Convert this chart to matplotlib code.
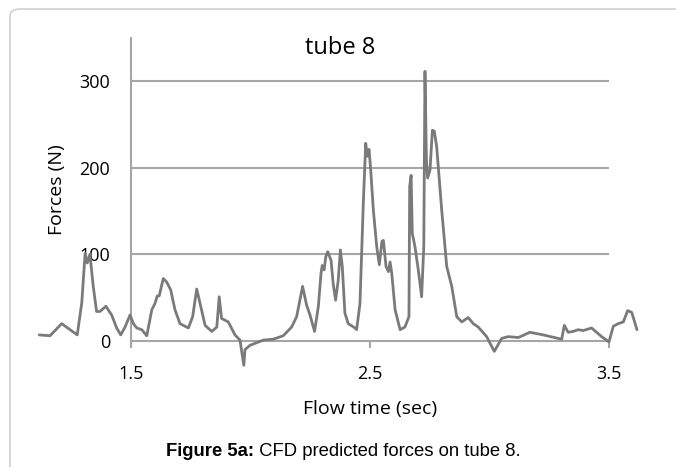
import matplotlib.pyplot as plt
from matplotlib.patches import FancyBboxPatch

# flow time (sec) and force (N)
time = [1.116, 1.161, 1.210, 1.245, 1.275, 1.294, 1.308, 1.317, 1.328, 1.342,
        1.356, 1.370, 1.395, 1.419, 1.440, 1.457, 1.475, 1.496, 1.510, 1.524,
        1.545, 1.566, 1.587, 1.600, 1.610, 1.618, 1.635, 1.649, 1.666, 1.684,
        1.705, 1.740, 1.758, 1.775, 1.789, 1.810, 1.838, 1.859, 1.869, 1.879,
        1.907, 1.935, 1.956, 1.972, 1.977, 1.998, 2.054, 2.095, 2.137, 2.172,
        2.193, 2.218, 2.235, 2.249, 2.268, 2.284, 2.295, 2.300, 2.308, 2.315,
        2.323, 2.337, 2.346, 2.356, 2.367, 2.376, 2.384, 2.395, 2.409, 2.437,
        2.444, 2.458, 2.472, 2.482, 2.489, 2.496, 2.503, 2.514, 2.528, 2.539,
        2.550, 2.556, 2.567, 2.577, 2.584, 2.591, 2.605, 2.626, 2.646, 2.663,
        2.666, 2.672, 2.677, 2.688, 2.702, 2.716, 2.725, 2.730, 2.736, 2.741,
        2.751, 2.761, 2.769, 2.779, 2.800, 2.821, 2.842, 2.863, 2.884, 2.911,
        2.932, 2.953, 2.988, 3.020, 3.051, 3.079, 3.121, 3.169, 3.225, 3.302,
        3.313, 3.329, 3.350, 3.371, 3.392, 3.427, 3.469, 3.500, 3.518, 3.539,
        3.560, 3.578, 3.595, 3.617]
force = [7, 6, 20, 13, 7, 44, 101, 90, 100, 63,
         34, 34, 40, 30, 15, 7, 16, 30, 20, 15,
         13, 6, 36, 43, 52, 52, 72, 68, 59, 36,
         20, 15, 28, 60, 43, 18, 11, 16, 51, 26,
         22, 7, 1, -28, -10, -5, 1, 2, 6, 16,
         28, 63, 41, 30, 11, 40, 78, 87, 82, 97,
         103, 93, 66, 47, 70, 105, 86, 32, 20, 15,
         13, 43, 159, 228, 213, 221, 197, 151, 109, 88,
         115, 116, 86, 80, 91, 78, 36, 13, 16, 28,
         178, 191, 124, 109, 82, 51, 109, 311, 209, 188,
         197, 243, 242, 224, 151, 86, 63, 28, 22, 27,
         20, 16, 5, -12, 3, 5, 4, 10, 7, 2,
         18, 10, 11, 13, 12, 15, 5, -1, 17, 20,
         22, 35, 33, 13]

x_ticks = [1.5, 2.5, 3.5]
x_tick_labels = ['1.5', '2.5', '3.5']
y_ticks = [0, 100, 200, 300]
grid_vals = [100, 200, 300]

fig = plt.figure(figsize=(6.76, 4.67), dpi=100)

# light rounded frame, only left and top edges fall inside the picture
frame = FancyBboxPatch((10 / 676, -0.05), 1.2, 1.05 - 9 / 467,
                       boxstyle='round,pad=0,rounding_size=0.015',
                       transform=fig.transFigure, facecolor='none',
                       edgecolor='#c8c8c8', linewidth=1.0, zorder=-5)
fig.patches.append(frame)

ax = fig.add_axes([0.0453, 0.2049, 0.9157, 0.724])
ax.set_xlim(1.08, 3.67)
ax.set_ylim(-35, 355)
ax.patch.set_alpha(0)

gray = '#a6a6a6'
ax.hlines(grid_vals, 1.5, 3.5, color=gray, linewidth=1.5, zorder=1)

for s in ['top', 'right']:
    ax.spines[s].set_visible(False)
ax.spines['left'].set_position(('data', 1.5))
ax.spines['left'].set_bounds(-7, 350)
ax.spines['bottom'].set_position(('data', 0))
ax.spines['bottom'].set_bounds(1.5, 3.5)
for s in ['left', 'bottom']:
    ax.spines[s].set_color(gray)
    ax.spines[s].set_linewidth(1.5)

ax.set_xticks(x_ticks)
ax.set_xticklabels(x_tick_labels, fontfamily='Open Sans', fontsize=13)
ax.tick_params(axis='x', length=5, width=1.5, color=gray, pad=12)
ax.set_yticks(y_ticks)
ax.set_yticklabels([str(v) for v in y_ticks], fontfamily='Open Sans', fontsize=13)
ax.tick_params(axis='y', length=0, pad=15)

ax.plot(time, force, color='#7a7a7a', linewidth=2.0, zorder=3,
        solid_joinstyle='round', solid_capstyle='round')

fig.text(340 / 676, 1 - 48 / 467, 'tube 8', fontfamily='Open Sans', fontsize=17,
         ha='center', va='center')
fig.text(57 / 676, 1 - 190 / 467, 'Forces (N)', fontfamily='Open Sans', fontsize=14,
         rotation=90, ha='center', va='center')
fig.text(370 / 676, 1 - 409 / 467, 'Flow time (sec)', fontfamily='Open Sans',
         fontsize=14, ha='center', va='center')

# caption: bold part + regular part, centred as a whole
cy = 1 - 451 / 467
t1 = fig.text(0, cy, 'Figure 5a:', fontfamily='Liberation Sans',
              fontsize=13.3, fontweight='bold', ha='left', va='center')
t2 = fig.text(0, cy, ' CFD predicted forces on tube 8.',
              fontfamily='Liberation Sans', fontsize=13.3, ha='left', va='center')
r = fig.canvas.get_renderer()
w1 = t1.get_window_extent(r).width / 676
w2 = t2.get_window_extent(r).width / 676
x0 = 343 / 676 - (w1 + w2) / 2
t1.set_x(x0)
t2.set_x(x0 + w1)

fig.savefig('out.png', dpi=100)
